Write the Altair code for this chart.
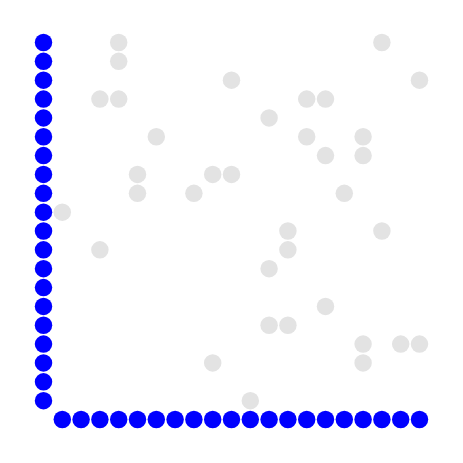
import altair as alt
import pandas as pd

# Grid positions (column index left→right, row index top→bottom)
gray_cols = [4, 18, 4, 10, 20, 3, 4, 14, 15, 12, 6, 14, 17, 15, 17, 5, 9, 10,
             5, 8, 16, 1, 13, 18, 3, 13, 12, 15, 12, 13, 17, 19, 20, 9, 17, 11]
gray_rows = [0, 0, 1, 2, 2, 3, 3, 3, 3, 4, 5, 5, 5, 6, 6, 7, 7, 7,
             8, 8, 8, 9, 10, 10, 11, 11, 12, 14, 15, 15, 16, 16, 16, 17, 17, 19]

left_cols = [0] * 20
left_rows = [0, 1, 2, 3, 4, 5, 6, 7, 8, 9, 10, 11, 12, 13, 14, 15, 16, 17, 18, 19]
bottom_cols = [1, 2, 3, 4, 5, 6, 7, 8, 9, 10, 11, 12, 13, 14, 15, 16, 17, 18, 19, 20]
bottom_rows = [20] * 20

gray = pd.DataFrame({"col": gray_cols, "row": gray_rows, "kind": "gray"})
blue = pd.DataFrame({"col": left_cols + bottom_cols,
                     "row": left_rows + bottom_rows, "kind": "blue"})
df = pd.concat([gray, blue], ignore_index=True)

x = alt.X("col:Q", scale=alt.Scale(domain=[0, 20], nice=False, zero=False), axis=None)
y = alt.Y("row:Q", scale=alt.Scale(domain=[0, 20], nice=False, zero=False, reverse=True), axis=None)

chart = alt.Chart(df).mark_circle(size=305, opacity=1).encode(
    x=x,
    y=y,
    color=alt.Color("kind:N",
                    scale=alt.Scale(domain=["gray", "blue"], range=["#e3e3e3", "#0000ff"]),
                    legend=None),
).properties(
    width=376,
    height=377,
    autosize=alt.AutoSizeParams(type="none"),
    padding={"left": 43.5, "top": 42.5, "right": 43.5, "bottom": 43.5},
).configure_view(stroke=None)

chart.save("out.html", embed_options={"renderer": "svg", "actions": False})
